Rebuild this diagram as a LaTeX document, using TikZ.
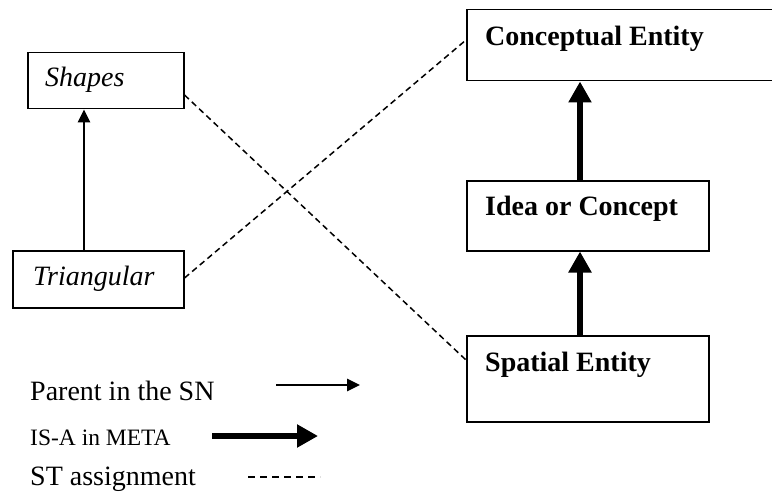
\documentclass[tikz,border=0pt]{standalone}
\usepackage{fontspec}
\setmainfont{Liberation Serif}
\usetikzlibrary{arrows.meta,calc}
\begin{document}
\begin{tikzpicture}[x=1pt,y=-1pt,
  box/.style={draw, line width=1.5pt, inner sep=0pt, anchor=north west},
  lbl/.style={anchor=base west, inner sep=0pt, font=\fontsize{28}{32}\selectfont},
  bl/.style={lbl, font=\fontsize{28}{32}\selectfont\bfseries},
  il/.style={lbl, font=\fontsize{28}{32}\selectfont\itshape},
  parent/.style={line width=1.5pt, -{Triangle[length=13pt,width=12.5pt]}},
  isa/.style={line width=6.5pt, -{Triangle[length=21pt,width=22pt]}},
  stassign/.style={line width=1.5pt, dash pattern=on 6pt off 4pt}]
\useasboundingbox[fill=white] (0,0) rectangle (772,495);
% left boxes
\node[box, minimum width=156pt, minimum height=56pt] (sh) at (27,52) {};
\node[il] at ($(sh.north west)+(18,35)$) {Shapes};
\node[box, minimum width=171pt, minimum height=57pt] (tr) at (12,250) {};
\node[il] at ($(tr.north west)+(21,35)$) {Triangular};
% right boxes
\node[box, minimum width=306pt, minimum height=71pt] (ce) at (466,9) {};
\node[bl] at ($(ce.north west)+(19,37)$) {Conceptual Entity};
\node[box, minimum width=242pt, minimum height=70pt] (ic) at (466,180) {};
\node[bl] at ($(ic.north west)+(19,35)$) {Idea or Concept};
\node[box, minimum width=242pt, minimum height=86pt] (se) at (466,335) {};
\node[bl] at ($(se.north west)+(19,36)$) {Spatial Entity};
% connectors
\draw[parent] (tr.north -| 84,0) -- (sh.south -| 84,0);
\draw[isa] (se.north -| 580,0) -- (ic.south -| 580,0);
\draw[isa] (ic.north -| 580,0) -- (ce.south -| 580,0);
\draw[stassign] ($(sh.north east)+(0,43)$) -- ($(se.north west)+(0,25)$);
\draw[stassign] ($(tr.north east)+(0,28)$) -- ($(ce.north west)+(0,31)$);
% legend
\node[lbl] (lp) at (30,400) {Parent in the SN};
\node[lbl, font=\fontsize{23.5}{28}\selectfont] (li) at (30,445) {IS-A in META};
\node[lbl] (ls) at (30,485) {ST assignment};
\coordinate (pa) at (276,385); \coordinate (pb) at (360,385);
\coordinate (ia) at (212,436); \coordinate (ib) at (318,436);
\coordinate (sa) at (248,477); \coordinate (sb) at (320,477);
\draw[parent] (pa) -- (pb);
\draw[isa] (ia) -- (ib);
\draw[line width=1.5pt, dash pattern=on 7pt off 5pt] (sa) -- (sb);
\end{tikzpicture}
\end{document}
